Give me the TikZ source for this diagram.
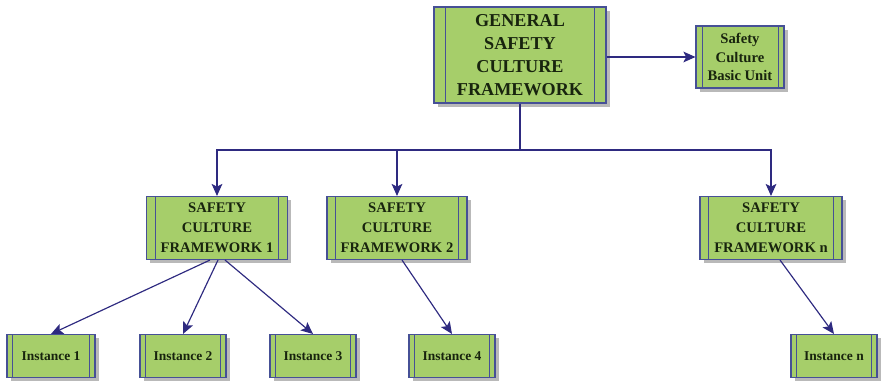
\documentclass[tikz,border=0pt]{standalone}
\usepackage{fontspec}
\setmainfont{Liberation Serif}
\usetikzlibrary{shadows,arrows.meta}
\definecolor{boxgreen}{RGB}{166,206,106}
\definecolor{boxline}{RGB}{70,80,150}
\definecolor{arrowblue}{RGB}{46,42,128}
\definecolor{textdark}{RGB}{24,36,14}

\begin{document}
\begin{tikzpicture}[x=0.03cm,y=-0.03cm,
		proc/.style={draw=boxline, line width=0.9pt, fill=boxgreen, align=center,
			font=\bfseries, text=textdark, inner sep=0pt,
			drop shadow={shadow xshift=1.1mm, shadow yshift=-1.1mm, fill=black!50, opacity=0.55},
			path picture={
				\draw[boxline, line width=0.7pt] ([xshift=#1]path picture bounding box.north west) -- ([xshift=#1]path picture bounding box.south west);
				\draw[boxline, line width=0.7pt] ([xshift=-#1]path picture bounding box.north east) -- ([xshift=-#1]path picture bounding box.south east);
			}},
		proc/.default=2.4mm,
		conn/.style={arrowblue, line width=1pt},
		arr/.style={conn, -{Stealth[length=3.6mm,width=3.2mm,inset=0.8mm]}}]
	
	\useasboundingbox (0,0) rectangle (885,387);
	
	% top level
	\node[proc=3.4mm, minimum width=5.16cm, minimum height=2.88cm, font=\bfseries\fontsize{15.5}{19.5}\selectfont] (gen) at (520,55) {GENERAL\\SAFETY\\CULTURE\\FRAMEWORK};
	\node[proc=1.8mm, minimum width=2.64cm, minimum height=1.86cm, font=\bfseries\fontsize{12.5}{16}\selectfont] (unit) at (740,57) {Safety\\Culture\\Basic Unit};
	
	% frameworks
	\node[proc=2.6mm, minimum width=4.23cm, minimum height=1.89cm, font=\bfseries\fontsize{12.5}{17}\selectfont] (scf1) at (217,228) {SAFETY\\CULTURE\\FRAMEWORK 1};
	\node[proc=2.6mm, minimum width=4.2cm, minimum height=1.89cm, font=\bfseries\fontsize{12.5}{17}\selectfont] (scf2) at (397,228) {SAFETY\\CULTURE\\FRAMEWORK 2};
	\node[proc=2.6mm, minimum width=4.26cm, minimum height=1.89cm, font=\bfseries\fontsize{12.5}{17}\selectfont] (scfn) at (771,228) {SAFETY\\CULTURE\\FRAMEWORK n};
	
	% instances
	\node[proc=1.6mm, minimum width=2.64cm, minimum height=1.29cm, font=\bfseries\fontsize{11.5}{14}\selectfont] (inst1) at (51,356) {Instance 1};
	\node[proc=1.6mm, minimum width=2.58cm, minimum height=1.29cm, font=\bfseries\fontsize{11.5}{14}\selectfont] (inst2) at (183,356) {Instance 2};
	\node[proc=1.6mm, minimum width=2.58cm, minimum height=1.29cm, font=\bfseries\fontsize{11.5}{14}\selectfont] (inst3) at (313,356) {Instance 3};
	\node[proc=1.6mm, minimum width=2.58cm, minimum height=1.29cm, font=\bfseries\fontsize{11.5}{14}\selectfont] (inst4) at (452,356) {Instance 4};
	\node[proc=1.6mm, minimum width=2.58cm, minimum height=1.29cm, font=\bfseries\fontsize{11.5}{14}\selectfont] (instn) at (834,356) {Instance n};
	
	\coordinate (bus) at (520,150);
	
	\draw[arr] (gen.east |- unit.west) -- (unit.west);
	\draw[conn] (gen.south) -- (bus);
	\draw[arr] (bus) -| (scf1.north);
	\draw[arr] (bus) -| (scf2.north);
	\draw[arr] (bus) -| (scfn.north);
	
	\draw[arr] ([xshift=-0.21cm]scf1.south) -- (inst1.north);
	\draw[arr] ([xshift=0.03cm]scf1.south) -- (inst2.north);
	\draw[arr] ([xshift=0.24cm]scf1.south) -- (inst3.north);
	\draw[arr] ([xshift=0.15cm]scf2.south) -- (inst4.north);
	\draw[arr] ([xshift=0.27cm]scfn.south) -- (instn.north);
\end{tikzpicture}
\end{document}
